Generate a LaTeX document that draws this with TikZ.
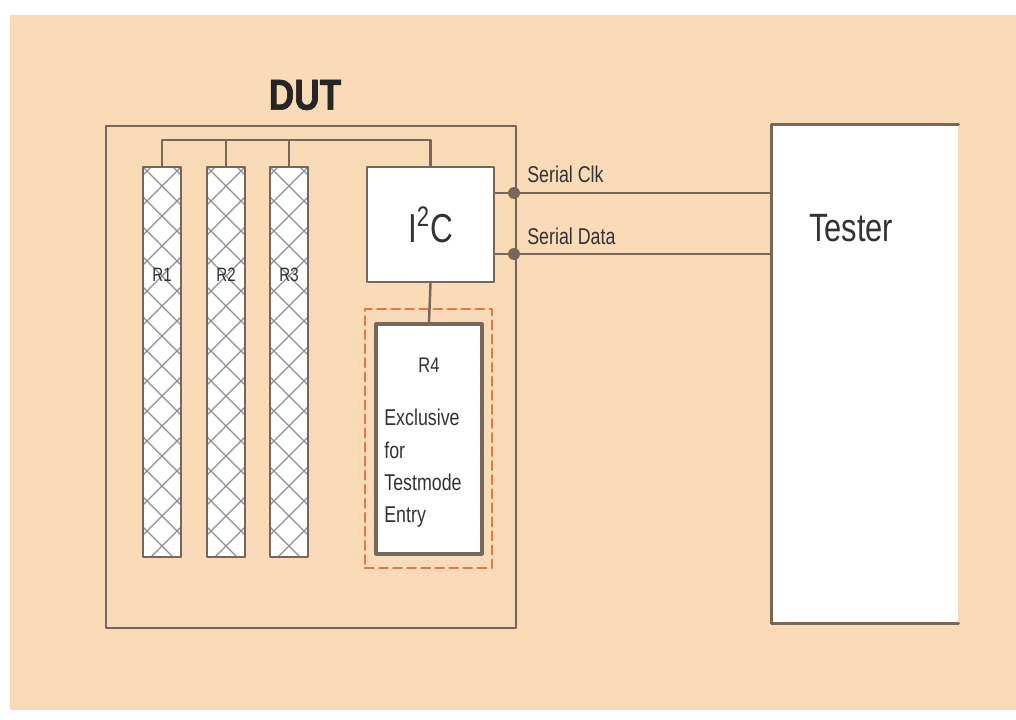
\documentclass[tikz,border=0pt]{standalone}
\usepackage{fontspec}
\setmainfont{Liberation Sans}
\newfontfamily\narrowsf[FakeStretch=0.78]{Liberation Sans}
\newfontfamily\dutsf[FakeStretch=0.82, BoldFeatures={FakeBold=1.5}]{Liberation Sans}
\usetikzlibrary{calc}
\definecolor{bgpeach}{HTML}{F9DBB7}
\definecolor{wirec}{HTML}{76675A}
\definecolor{hatchc}{HTML}{8A8F98}
\definecolor{dashc}{HTML}{E07A45}
\definecolor{txtc}{HTML}{333333}
\begin{document}
\begin{tikzpicture}[x=0.02cm, y=-0.02cm, line join=round, line cap=round, font=\narrowsf,
	wire/.style={draw=wirec, line width=1.4pt},
	block/.style={draw=wirec, line width=1.4pt, fill=white, inner sep=0pt},
	regbar/.style={block, minimum width=0.76cm, minimum height=7.8cm,
		path picture={
			\foreach \k in {-14,...,2}{
				\draw[hatchc, line width=0.7pt] ($(path picture bounding box.north west)+(\k*30,0)$) -- ++(420,420);
				\draw[hatchc, line width=0.7pt] ($(path picture bounding box.north east)+(-\k*30,0)$) -- ++(-420,420);
			}}},
	lbl/.style={text=txtc, inner sep=0pt}]
	\useasboundingbox (0,0) rectangle (1016,719);
	\fill[bgpeach] (10,15) rectangle (1016,710);
	\path
	(514,193) coordinate (clk)
	(514,254) coordinate (dat)
	(0,140) coordinate (bus)
	;
	% DUT
	\node[lbl, font=\dutsf\bfseries\fontsize{24.5}{28}\selectfont, text=black!85] (dutlbl) at (305,95) {DUT};
	\node[draw=wirec, line width=1.4pt, minimum width=8.2cm, minimum height=10.04cm, inner sep=0pt, anchor=north west] (dut) at (105,125) {};
	\foreach \n/\x in {1/162,2/226,3/289}{
		\node[regbar] (r\n) at (\x,362) {};
		\node[lbl, font=\narrowsf\fontsize{11}{13}\selectfont] (r\n lbl) at ($(r\n)+(0,-87)$) {R\n};
	}
	\node[block, minimum width=2.54cm, minimum height=2.3cm, font=\narrowsf\fontsize{23}{27}\selectfont, text=txtc] (i2c) at (430.5,224.5) {I\textsuperscript{2}C};
	\node[draw=dashc, dash pattern=on 5pt off 3pt, line width=1.3pt, minimum width=2.54cm, minimum height=5.18cm, inner sep=0pt] (r4frame) at (428.5,438.5) {};
	\node[block, line width=1.8pt, minimum width=2.12cm, minimum height=4.6cm] (r4) at (429,439) {};
	\node[lbl, font=\narrowsf\fontsize{12}{14}\selectfont] (r4lbl) at (429,365) {R4};
	\node[lbl, align=left, anchor=north west, font=\narrowsf\fontsize{13}{18.4}\selectfont] (r4txt) at (384,409) {Exclusive\\for\\Testmode\\Entry};
	% Tester
	\node[fill=white, minimum width=3.72cm, minimum height=9.96cm, inner sep=0pt] (tester) at (865,374) {};
	\draw[draw=wirec, line width=2pt] (tester.north east) -- (tester.north west) -- (tester.south west) -- (tester.south east);
	\node[lbl, font=\narrowsf\fontsize{22.5}{27}\selectfont] (testlbl) at (851,228) {Tester};
	% wires
	\draw[wire] (r1.north) |- (i2c.north |- bus) -- (i2c.north);
	\foreach \n in {2,3}
	\draw[wire] (r\n.north) -- (r\n.north |- bus);
	\draw[wire] (i2c.south) -- (r4.north);
	\foreach \c in {clk,dat}{
		\draw[wire] (i2c.east |- \c) -- (tester.west |- \c);
		\fill[wirec] (\c) circle (3.4pt);
	}
	\node[lbl, anchor=base west, font=\narrowsf\fontsize{13}{15}\selectfont] (clklbl) at (527,183) {Serial Clk};
	\node[lbl, anchor=base west, font=\narrowsf\fontsize{13}{15}\selectfont] (datlbl) at (527,245) {Serial Data};
\end{tikzpicture}
\end{document}
